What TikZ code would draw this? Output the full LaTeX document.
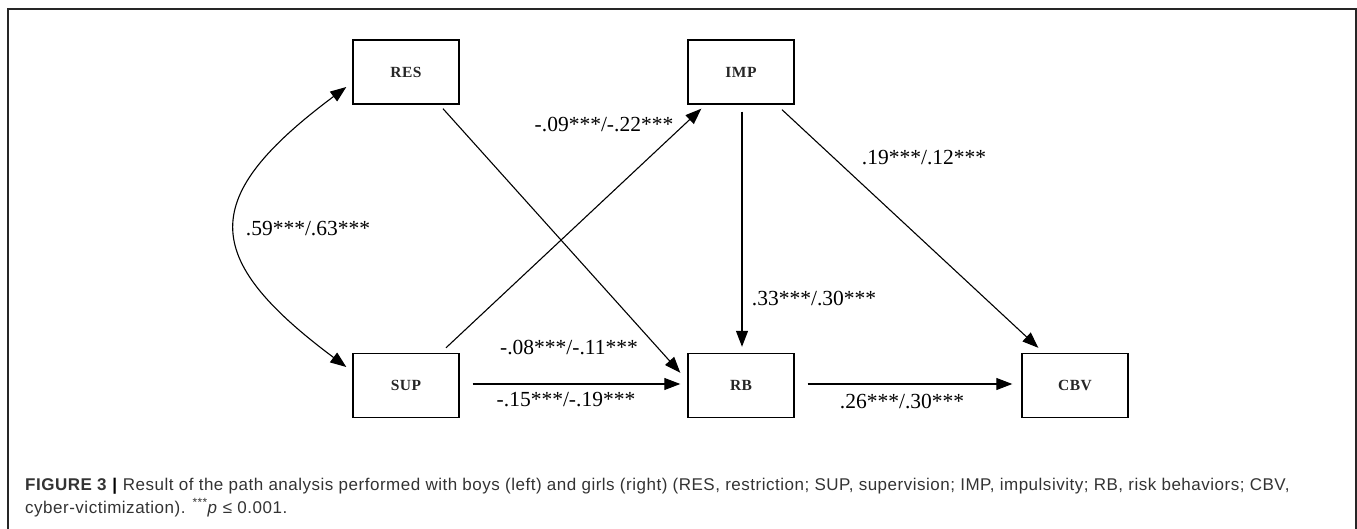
\documentclass[tikz,border=0pt]{standalone}
\usepackage{fontspec}
\setmainfont{Liberation Serif}
\newfontfamily\boxfont[LetterSpace=3]{Liberation Serif}
\newfontfamily\capfont[LetterSpace=3]{Liberation Sans}
\usetikzlibrary{arrows.meta,calc}
\definecolor{captiongray}{HTML}{333333}
\tikzset{
  varbox/.style={draw, line width=1.4pt, minimum width=106pt, minimum height=64pt,
    inner sep=0pt, font=\boxfont\bfseries\fontsize{15.5}{15.5}\selectfont, text=black!85},
  path/.style={line width=1.1pt, -{Triangle[length=16pt,width=12pt]}},
  covpath/.style={line width=1.1pt, {Triangle[length=16pt,width=12pt]}-{Triangle[length=16pt,width=12pt]}},
  coef/.style={font=\fontsize{21.5}{21.5}\selectfont, inner sep=0pt},
  captext/.style={font=\capfont\fontsize{17}{17}\selectfont, text=captiongray, anchor=base west, inner sep=0pt},
}
\begin{document}
\begin{tikzpicture}[x=1pt,y=-1pt]
\useasboundingbox (0,0) rectangle (1357,529);
% outer frame
\draw[line width=1.4pt, black!85] (8,529) -- (8,9) -- (1356,9) -- (1356,529);

% variables
\node[varbox] (res) at (406,72) {RES};
\node[varbox] (imp) at (741,72) {IMP};
\node[varbox] (sup) at (406,385.5) {SUP};
\node[varbox] (rb)  at (741,385.5) {RB};
\node[varbox] (cbv) at (1075,385.5) {CBV};

% paths
\draw[path] ($(res.south)+(37,4)$) -- ($(rb.north west)+(-7,20)$);
\draw[path] ($(sup.north)+(40,-5)$) -- ($(imp.south west)+(14,4)$);
\draw[path] ($(imp.south)+(1,7)$) -- ($(rb.north)+(1,-6)$);
\draw[path] ($(imp.south)+(41,5)$) -- ($(cbv.north west)+(17,-5)$);
\draw[path] ($(sup.east)+(13,-1.5)$) -- ($(rb.west)+(-7,-1.5)$);
\draw[path] ($(rb.east)+(13,-1.5)$) -- ($(cbv.west)+(-9,-1.5)$);
% covariance between RES and SUP
\draw[covpath] ($(res.west)+(-6,15)$) .. controls (199,197) and (199,257) .. ($(sup.west)+(-6,-18.5)$);

% coefficients
\node[coef] at (308,229) {.59***/.63***};
\node[coef] at (604,125) {-.09***/-.22***};
\node[coef] at (924,158) {.19***/.12***};
\node[coef] at (814,299) {.33***/.30***};
\node[coef] at (569,348) {-.08***/-.11***};
\node[coef] at (566,400) {-.15***/-.19***};
\node[coef] at (902,402) {.26***/.30***};

% caption
\node[captext] at (25,490) {\textbf{FIGURE 3} {\color{black}\textbf{|}} Result of the path analysis performed with boys (left) and girls (right) (RES, restriction; SUP, supervision; IMP, impulsivity; RB, risk behaviors; CBV,};
\node[captext] at (25,513) {cyber-victimization). \textsuperscript{***}\textit{p} ≤ 0.001.};
\end{tikzpicture}
\end{document}
